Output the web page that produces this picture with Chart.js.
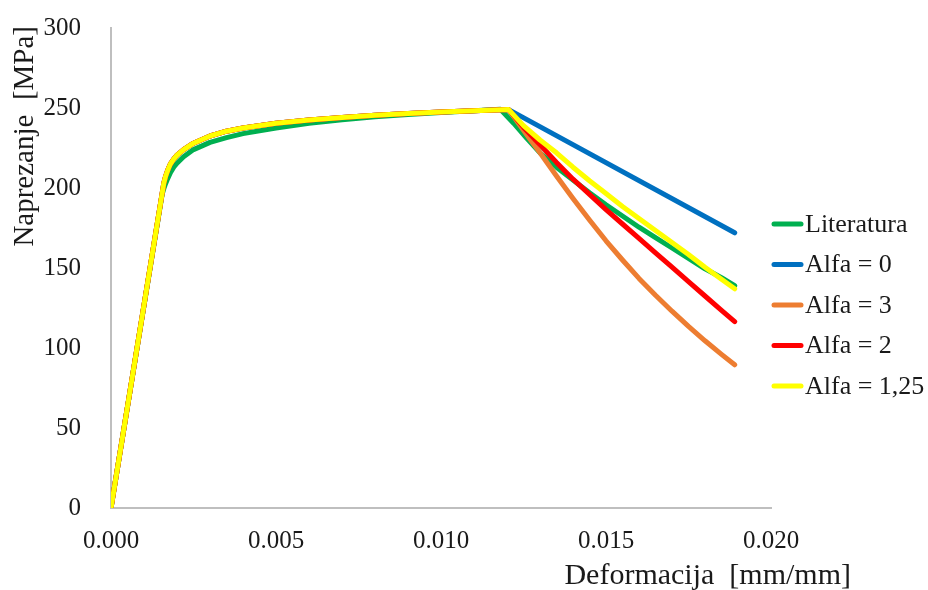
<!DOCTYPE html>
<html>
<head>
<meta charset="utf-8">
<script src="https://cdn.jsdelivr.net/npm/chart.js@4.4.1/dist/chart.umd.min.js"></script>
<style>
  html, body { margin: 0; padding: 0; background: #fff; }
  canvas { display: block; }
</style>
</head>
<body>
<canvas id="stressChart" width="928" height="590"></canvas>
<script>
// Series data (strain [mm/mm] / stress [MPa])
const labels = ['Literatura', 'Alfa = 0', 'Alfa = 3', 'Alfa = 2', 'Alfa = 1,25'];
const colors = ['#00b050', '#0070c0', '#ed7d31', '#ff0000', '#ffff00'];

// shared hardening branch (numerical models)
const strainPre = [0, 0.0016, 0.00165, 0.0017, 0.00175, 0.0018, 0.0019, 0.002, 0.0022, 0.0025, 0.003, 0.0035, 0.004, 0.005, 0.006, 0.007, 0.008, 0.009, 0.010, 0.011];
const stressPre = [0, 203, 207, 210, 212.7, 215, 218, 220.5, 224, 228, 232.5, 235.5, 237.5, 240.5, 242.5, 244, 245.5, 246.5, 247.5, 248.3];

// literature curve
const strainLit = [0, 0.00155, 0.0016, 0.00165, 0.0017, 0.0018, 0.0019, 0.002, 0.0022, 0.0025, 0.003, 0.0035, 0.004, 0.005, 0.006, 0.007, 0.008, 0.009, 0.010, 0.011, 0.0118,
                   0.0122, 0.0126, 0.013, 0.0135, 0.014, 0.0145, 0.015, 0.0155, 0.016, 0.0165, 0.017, 0.0175, 0.018, 0.0185, 0.0189];
const stressLit = [0, 196, 199.5, 202.5, 205, 209.5, 213, 215.5, 219.5, 224, 228.5, 231.5, 234, 237.5, 240.5, 242.7, 244.5, 246, 247.2, 248.3, 249.2,
                   240.5, 231, 222, 213, 205, 197, 189.5, 182.5, 175.5, 169, 162.5, 156, 149.5, 144, 139];

// softening branch after peak
const strainPost = [0.01205, 0.0125, 0.013, 0.0135, 0.014, 0.0145, 0.015, 0.0155, 0.016, 0.0165, 0.017, 0.0175, 0.018, 0.0185, 0.0189];
const strainA0 = [0.01205, 0.0189];
const stressA0 = [249, 172];
const stressA3 = [249, 236, 222, 207.5, 193.5, 180, 167, 155, 143.5, 133, 123, 113.5, 104.5, 96, 89.5];
const stressA2 = [249, 238, 227, 216, 205.5, 196, 186.5, 177.5, 168.5, 159.5, 150.5, 141.5, 132.5, 123.5, 116.5];
const stressA125 = [249, 239, 230, 222, 213, 204.5, 196.5, 188.5, 181, 173.5, 166, 158.5, 150.5, 143, 137];

const xTicks = [0, 0.005, 0.010, 0.015, 0.020];
const yTicks = [0, 50, 100, 150, 200, 250, 300];

const FONT = '"Liberation Serif", "Times New Roman", serif';
const TEXT = '#1a1a1a';

function pts(xs, ys) { return xs.map((x, i) => ({ x: x, y: ys[i] })); }
function withPre(xs, ys) { return pts(strainPre, stressPre).concat(pts(xs, ys)); }

const series = [
  pts(strainLit, stressLit),
  withPre(strainA0, stressA0),
  withPre(strainPost, stressA3),
  withPre(strainPost, stressA2),
  withPre(strainPost, stressA125)
];

const datasets = series.map((data, i) => ({
  label: labels[i],
  data: data,
  borderColor: colors[i],
  backgroundColor: colors[i],
  borderWidth: 5,
  pointRadius: 0,
  showLine: true,
  tension: 0,
  borderCapStyle: 'round',
  borderJoinStyle: 'round',
  order: series.length - i   // last series drawn on top
}));

// legend + axis titles drawn by hand to match the layout
const decor = {
  id: 'decor',
  afterDraw(chart) {
    const ctx = chart.ctx;
    ctx.save();
    ctx.fillStyle = TEXT;
    ctx.textBaseline = 'middle';
    ctx.font = '26px ' + FONT;
    chart.data.datasets.forEach((ds, i) => {
      const y = 224 + i * 40.5;
      ctx.strokeStyle = ds.borderColor;
      ctx.lineWidth = 5;
      ctx.lineCap = 'round';
      ctx.beginPath();
      ctx.moveTo(774, y);
      ctx.lineTo(801, y);
      ctx.stroke();
      ctx.textAlign = 'left';
      ctx.fillText(ds.label, 805, y + 1);
    });
    ctx.textAlign = 'right';
    ctx.font = '30px ' + FONT;
    ctx.fillText('Deformacija  [mm/mm]', 851, 576);
    ctx.font = '29px ' + FONT;
    ctx.translate(25, 26);
    ctx.rotate(-Math.PI / 2);
    ctx.fillText('Naprezanje  [MPa]', 0, 0);
    ctx.restore();
  }
};

new Chart(document.getElementById('stressChart').getContext('2d'), {
  type: 'scatter',
  data: { datasets: datasets },
  options: {
    responsive: false,
    animation: false,
    layout: { padding: { left: 0, top: 28, right: 157, bottom: 0 } },
    plugins: { legend: { display: false }, tooltip: { enabled: false } },
    scales: {
      x: {
        type: 'linear', min: 0, max: 0.02,
        afterBuildTicks: s => { s.ticks = xTicks.map(v => ({ value: v })); },
        afterFit: s => { s.height = 82; s.paddingLeft = 0; s.paddingRight = 0; },
        grid: { display: false },
        border: { display: true, color: '#bfbfbf', width: 2 },
        ticks: { color: TEXT, padding: 10, font: { family: FONT, size: 25 }, callback: v => v.toFixed(3) }
      },
      y: {
        type: 'linear', min: 0, max: 300,
        afterBuildTicks: s => { s.ticks = yTicks.map(v => ({ value: v })); },
        afterFit: s => { s.width = 111; s.paddingTop = 0; s.paddingBottom = 0; },
        grid: { display: false },
        border: { display: true, color: '#bfbfbf', width: 2 },
        ticks: { color: TEXT, padding: 22, font: { family: FONT, size: 25 } }
      }
    }
  },
  plugins: [decor]
});
</script>
</body>
</html>
